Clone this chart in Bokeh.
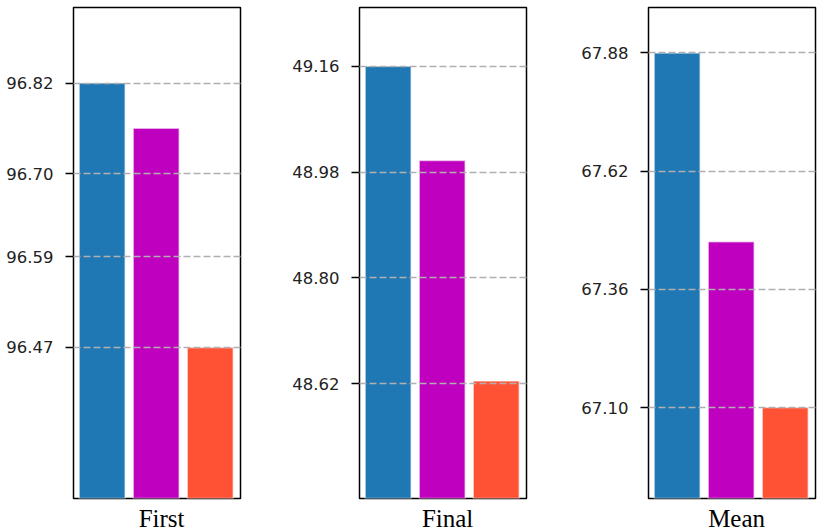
from bokeh.plotting import figure
from bokeh.layouts import row
from bokeh.models import Range1d, FixedTicker, PrintfTickFormatter
from bokeh.embed import file_html
from bokeh.resources import INLINE

# ---- data ----
panel_names = ["First", "Final", "Mean"]
bar_positions = [0, 1, 2]
bar_colors = ["#1f77b4", "#bf00bf", "#ff5133"]

first_values = [96.82, 96.76, 96.47]
final_values = [49.16, 49.00, 48.625]
mean_values = [67.88, 67.465, 67.10]

first_ticks = [96.47, 96.59, 96.70, 96.82]
final_ticks = [48.62, 48.80, 48.98, 49.16]
mean_ticks = [67.10, 67.36, 67.62, 67.88]

all_values = [first_values, final_values, mean_values]
all_ticks = [first_ticks, final_ticks, mean_ticks]
right_borders = [46, 49, 16]
name_position = bar_positions[1] + 0.1


def make_panel(name, vals, ticks, rb):
    ymin = min(vals) - 0.2
    ymax = max(vals) + 0.1
    p = figure(frame_width=167, frame_height=491,
               x_range=Range1d(-0.53, 2.56), y_range=Range1d(ymin, ymax),
               toolbar_location=None, output_backend="svg",
               min_border_left=73, min_border_right=rb,
               min_border_top=7, min_border_bottom=33)
    p.background_fill_color = "white"
    p.border_fill_color = "white"
    p.outline_line_color = "black"
    p.outline_line_width = 1.5
    p.outline_line_alpha = 1.0

    p.vbar(x=bar_positions, top=vals, bottom=ymin - 1.0, width=0.85,
           fill_color=bar_colors, line_color="white", line_alpha=0.55,
           line_width=1.5)

    ax = p.yaxis[0]
    ax.ticker = FixedTicker(ticks=ticks)
    ax.formatter = PrintfTickFormatter(format="%.2f")
    ax.axis_line_color = None
    ax.major_tick_out = 8
    ax.major_tick_in = 0
    ax.major_tick_line_color = "black"
    ax.major_tick_line_width = 1.3
    ax.minor_tick_line_color = None
    ax.major_label_text_font = "DejaVu Sans"
    ax.major_label_text_font_size = "16.5px"
    ax.major_label_text_color = "#222222"
    ax.major_label_standoff = 12

    xa = p.xaxis[0]
    xa.ticker = FixedTicker(ticks=[name_position])
    xa.major_label_overrides = {name_position: name}
    xa.axis_line_color = None
    xa.major_tick_line_color = None
    xa.minor_tick_line_color = None
    xa.major_tick_out = 0
    xa.major_tick_in = 0
    xa.major_label_standoff = 6
    xa.major_label_text_font = "Liberation Serif"
    xa.major_label_text_font_size = "25px"
    xa.major_label_text_color = "black"

    p.xgrid.visible = False
    p.ygrid.grid_line_color = "#b0b0b0"
    p.ygrid.grid_line_dash = "7 3"
    p.ygrid.grid_line_width = 1.5
    p.ygrid.level = "overlay"
    return p


panels = [make_panel(n, v, t, rb) for n, v, t, rb in
          zip(panel_names, all_values, all_ticks, right_borders)]

layout = row(*panels)
open("out.html", "w").write(file_html(layout, INLINE))
